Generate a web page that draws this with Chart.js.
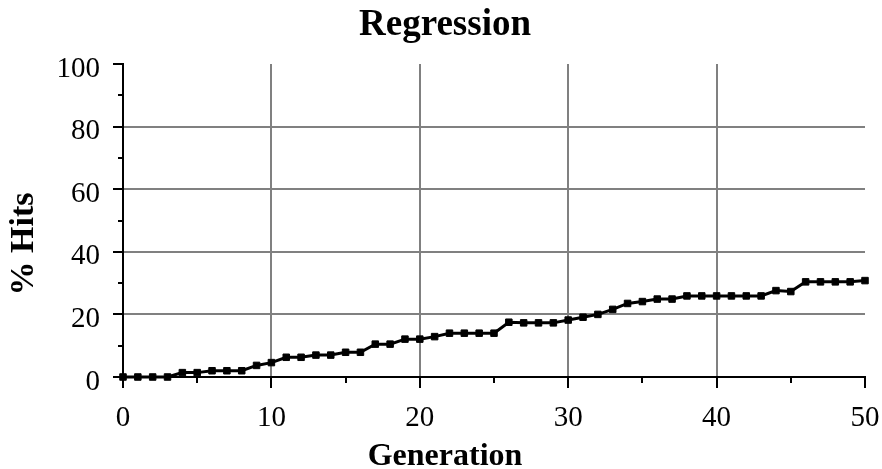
<!DOCTYPE html>
<html><head><meta charset="utf-8">
<script src="https://cdn.jsdelivr.net/npm/chart.js@4/dist/chart.umd.min.js"></script>
<style>html,body{margin:0;padding:0;background:#fff;}#wrap{width:882px;height:469px;}</style>
</head><body><div id="wrap"><canvas id="c" width="882" height="469"></canvas></div>
<script>
const chartTitle = 'Regression';
const xAxisTitle = 'Generation';
const yAxisTitle = '% Hits';
const generations = [0,1,2,3,4,5,6,7,8,9,10,11,12,13,14,15,16,17,18,19,20,21,22,23,24,25,26,27,28,29,30,31,32,33,34,35,36,37,38,39,40,41,42,43,44,45,46,47,48,49,50];
const hits = [0,0,0,0,1.4,1.4,2,2,2,3.7,4.6,6.3,6.3,7,7,7.9,7.9,10.5,10.5,12.1,12.1,12.9,14,14,14,14,17.5,17.3,17.3,17.3,18.2,19.1,20,21.6,23.5,24.1,24.9,24.9,25.9,25.9,25.9,25.9,25.9,25.9,27.6,27.3,30.4,30.4,30.4,30.4,30.8];
const xTickValues = [0,10,20,30,40,50];
const yTickValues = [0,20,40,60,80,100];
const xMinorTicks = [5,15,25,35,45];
const yMinorTicks = [10,30,50,70,90];

const FONT = '"Liberation Serif", "Times New Roman", serif';
Chart.defaults.font.family = FONT;
Chart.defaults.color = '#000';

const minorTicksPlugin = {
  id: 'minorTicks',
  afterDraw(chart) {
    const {ctx, chartArea, scales} = chart;
    ctx.save();
    ctx.strokeStyle = '#000';
    ctx.lineWidth = 2;
    ctx.beginPath();
    xMinorTicks.forEach(v => {
      const px = Math.round(scales.x.getPixelForValue(v));
      ctx.moveTo(px, chartArea.bottom);
      ctx.lineTo(px, chartArea.bottom + 6);
    });
    yMinorTicks.forEach(v => {
      const py = Math.round(scales.y.getPixelForValue(v));
      ctx.moveTo(chartArea.left - 5, py);
      ctx.lineTo(chartArea.left, py);
    });
    ctx.stroke();
    ctx.restore();
  }
};

const yTitlePlugin = {
  id: 'yTitle',
  afterDraw(chart) {
    const {ctx, chartArea} = chart;
    ctx.save();
    ctx.translate(chartArea.left - 99, chartArea.top + 180);
    ctx.rotate(-Math.PI / 2);
    ctx.font = 'bold 34px ' + FONT;
    ctx.fillStyle = '#000';
    ctx.textAlign = 'center';
    ctx.textBaseline = 'middle';
    ctx.fillText(yAxisTitle, 0, 0);
    ctx.restore();
  }
};

const gridColor = (lo, hi) => (ctx) => (ctx.tick && ctx.tick.value > lo && ctx.tick.value < hi) ? '#808080' : 'rgba(0,0,0,0)';

new Chart(document.getElementById('c'), {
  type: 'line',
  data: {
    datasets: [{
      data: generations.map((g, i) => ({x: g, y: hits[i]})),
      borderColor: '#000',
      backgroundColor: '#000',
      borderWidth: 3,
      pointStyle: 'rect',
      pointRadius: 4.6,
      pointBorderWidth: 1,
      pointBackgroundColor: '#000',
      pointBorderColor: '#000',
      tension: 0,
      clip: false
    }]
  },
  options: {
    responsive: false,
    animation: false,
    devicePixelRatio: 1,
    layout: {padding: {left: 25, right: 17, top: 0, bottom: 0}},
    plugins: {
      legend: {display: false},
      tooltip: {enabled: false},
      title: {
        display: true, text: chartTitle, color: '#000',
        font: {family: FONT, size: 37, weight: 'bold', lineHeight: 1},
        padding: {top: 7, bottom: 20}
      },
      subtitle: {
        display: true, text: xAxisTitle, position: 'bottom', color: '#000',
        font: {family: FONT, size: 32, weight: 'bold', lineHeight: 0.75},
        padding: {top: 0, bottom: 0}
      }
    },
    scales: {
      x: {
        type: 'linear', min: 0, max: 50,
        afterBuildTicks: s => { s.ticks = xTickValues.map(v => ({value: v})); },
        afterFit: s => { s.height = 68; },
        ticks: {font: {family: FONT, size: 29, lineHeight: 1.93}, color: '#000', padding: 2, maxRotation: 0, autoSkip: false},
        grid: {color: gridColor(0, 50), lineWidth: 2, tickColor: '#000', tickLength: 11, tickWidth: 2},
        border: {color: '#000', width: 2}
      },
      y: {
        type: 'linear', min: 0, max: 100,
        afterBuildTicks: s => { s.ticks = yTickValues.map(v => ({value: v})); },
        afterFit: s => { s.width = 98; },
        ticks: {font: {family: FONT, size: 29}, color: '#000', padding: 13, labelOffset: 5, autoSkip: false},
        grid: {color: gridColor(0, 100), lineWidth: 2, tickColor: '#000', tickLength: 10, tickWidth: 2},
        border: {color: '#000', width: 2}
      }
    }
  },
  plugins: [minorTicksPlugin, yTitlePlugin]
});
</script></body></html>
